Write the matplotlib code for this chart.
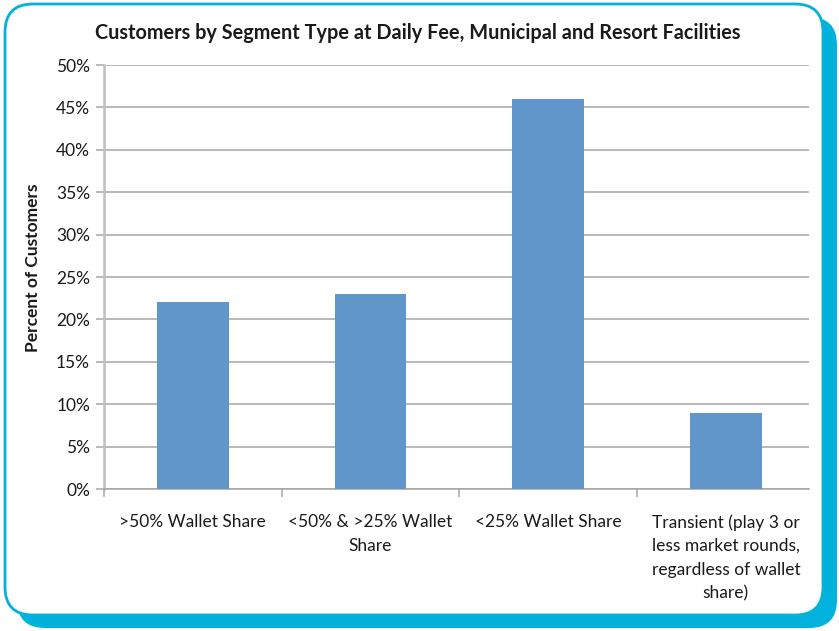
import numpy as np
import matplotlib
matplotlib.use("Agg")
import matplotlib.pyplot as plt
from matplotlib.patches import FancyBboxPatch

# chart data
categories = [">50% Wallet Share",
              "<50% & >25% Wallet\nShare",
              "<25% Wallet Share",
              "Transient (play 3 or\nless market rounds,\nregardless of wallet\nshare)"]
percents = [22, 23, 46, 9]
y_ticks = [0, 5, 10, 15, 20, 25, 30, 35, 40, 45, 50]
title = "Customers by Segment Type at Daily Fee, Municipal and Resort Facilities"
y_label = "Percent of Customers"

plt.rcParams['font.family'] = ['Lato', 'DejaVu Sans']

W, H = 839, 631
fig = plt.figure(figsize=(W / 100, H / 100), dpi=100)

# background frame drawn in pixel coords
bg = fig.add_axes([0, 0, 1, 1], zorder=0)
bg.set_xlim(0, W)
bg.set_ylim(H, 0)
bg.axis('off')
cyan = '#00B2DC'
shadow = FancyBboxPatch((17 + 28, 17 + 28), 820 - 56, 611 - 56,
                        boxstyle="round,pad=28", fc=cyan, ec='none')
bg.add_patch(shadow)
frame = FancyBboxPatch((5 + 28, 4 + 28), 818 - 56, 611 - 56,
                       boxstyle="round,pad=28", fc='white', ec=cyan, lw=2)
bg.add_patch(frame)

# main plot area
x0, x1, ytop, ybot = 104, 809, 65, 489
ax = fig.add_axes([x0 / W, 1 - ybot / H, (x1 - x0) / W, (ybot - ytop) / H], zorder=1)
ax.patch.set_alpha(0)

x = np.arange(len(categories))
ax.bar(x, percents, width=0.405, color='#6096C9', zorder=3)

ax.set_xlim(-0.5, len(categories) - 0.532)
ax.set_ylim(0, 50)
ax.set_yticks(y_ticks)
ax.set_yticklabels([f"{v}%" for v in y_ticks], fontsize=12.5, color='#1a1a1a')
ax.yaxis.grid(True, color='#A6A6A6', lw=1.1, zorder=0)
ax.tick_params(axis='y', length=6, width=1.1, color='#A6A6A6', pad=4)

# category labels sit between boundary ticks
ax.set_xticks(np.arange(-0.5, len(categories) - 1, 1.0))
ax.set_xticklabels([])
ax.set_xticks(x, minor=True)
ax.set_xticklabels(categories, minor=True, fontsize=12.5, color='#1a1a1a',
                   linespacing=1.58, va='top', ha='center')
ax.tick_params(axis='x', which='major', length=6, width=1.1, color='#A6A6A6')
ax.tick_params(axis='x', which='minor', length=0, pad=18)

for side in ['top', 'right']:
    ax.spines[side].set_visible(False)
ax.spines['left'].set_color('#BFBFBF')
ax.spines['left'].set_linewidth(1.8)
ax.spines['bottom'].set_color('#A6A6A6')
ax.spines['bottom'].set_linewidth(1.1)

fig.text(418 / W, 1 - 33 / H, title, ha='center', va='center',
         fontsize=14.3, fontweight='bold', color='#1a1a1a')
fig.text(33 / W, 1 - 268 / H, y_label, rotation=90, ha='center', va='center',
         fontsize=12.5, fontweight='bold', color='#1a1a1a')

fig.savefig("out.png", dpi=100)
